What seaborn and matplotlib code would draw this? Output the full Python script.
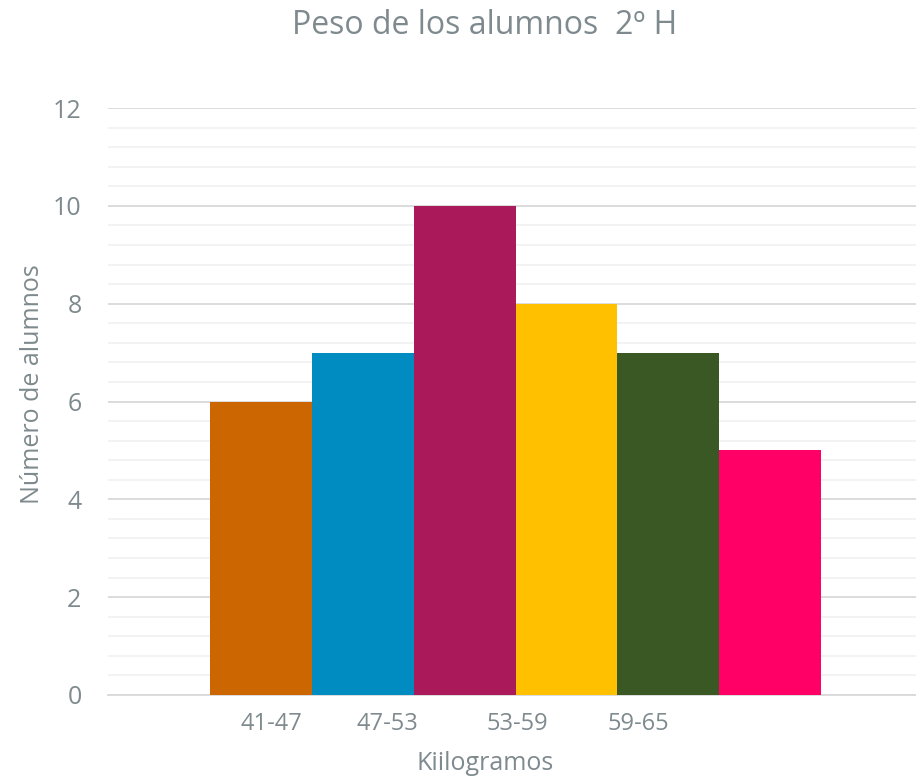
import matplotlib
matplotlib.use("Agg")
import matplotlib.pyplot as plt
import seaborn as sns
import pandas as pd
from matplotlib.ticker import MultipleLocator

# Data
bar_ids = ["b1", "b2", "b3", "b4", "b5", "b6"]
values = [6, 7, 10, 8, 7, 5]
colors = ["#CC6600", "#008BC1", "#AA1A5A", "#FFC000", "#3A5824", "#FF0066"]
tick_labels = ["41-47", "47-53", "53-59", "59-65"]
tick_pos = [0.10, 1.24, 2.52, 3.70]

title = "Peso de los alumnos  2º H"
xlabel = "Kiilogramos"
ylabel = "Número de alumnos"

sns.set_theme(style="white")
plt.rcParams["font.family"] = ["Open Sans", "DejaVu Sans"]
txt = "#7F8A8E"

df = pd.DataFrame({"id": bar_ids, "val": values})
fig = plt.figure(figsize=(9.16, 7.79), dpi=100)
ax = fig.add_axes([108/916, 1-695/779, 1-108/916, (695-108)/779])

sns.barplot(data=df, x="id", y="val", hue="id", palette=colors, order=bar_ids,
            width=1.0, legend=False, ax=ax, saturation=1, zorder=3,
            linewidth=0, edgecolor="none")

ax.set_xlim(-1.5, 6.43)
ax.set_ylim(0, 12)
ax.yaxis.set_major_locator(MultipleLocator(2))
ax.yaxis.set_minor_locator(MultipleLocator(0.4))
ax.grid(axis="y", which="major", color="#D9D9D9", linewidth=1.3, zorder=0)
ax.grid(axis="y", which="minor", color="#F2F2F2", linewidth=1.3, zorder=0)
ax.grid(axis="x", visible=False)
ax.set_axisbelow(True)

for s in ["top", "right", "left"]:
    ax.spines[s].set_visible(False)
ax.spines["bottom"].set_color("#D9D9D9")
ax.spines["bottom"].set_linewidth(1.3)

ax.set_xticks(tick_pos)
ax.set_xticklabels(tick_labels, fontsize=17, color=txt)
ax.tick_params(axis="y", labelsize=18, colors=txt, length=0, pad=19)
ax.tick_params(axis="x", length=0, pad=12)

ax.set_xlabel(xlabel, fontsize=18, color=txt)
ax.set_ylabel(ylabel, fontsize=18, color=txt)
ax.yaxis.set_label_coords(-0.078, 0.53)
ax.xaxis.set_label_coords((485-108)/808, -0.095)

fig.text(485/916, 1-25/779, title, ha="center", va="center", fontsize=23, color=txt)

fig.savefig("out.png", dpi=100)
